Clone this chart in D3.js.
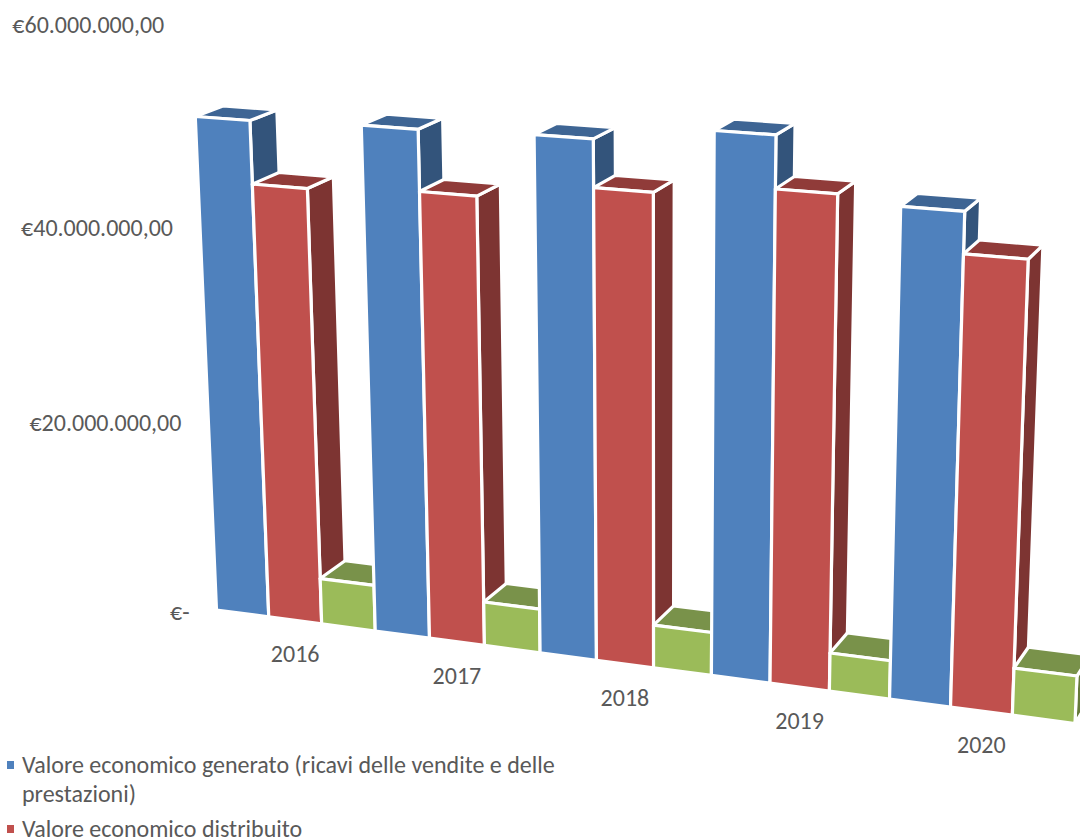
<!DOCTYPE html>
<html>
<head>
<meta charset="utf-8">
<script src="https://cdn.jsdelivr.net/npm/d3@7/dist/d3.min.js"></script>
<style>
  html, body { margin: 0; padding: 0; background: #fff; overflow: hidden; }
  svg { display: block; }
  text { font-family: Carlito, Lato, "Open Sans", sans-serif; fill: #595959; }
</style>
</head>
<body>
<svg id="chart" width="1080" height="840"></svg>
<script>
// Chart values, in euro
const years = ["2016", "2017", "2018", "2019", "2020"];
const seriesKeys = ["generato", "distribuito", "trattenuto"];
const generato    = [50.85e6, 51.2e6, 51.5e6, 53.1e6, 47.4e6];
const distribuito = [44.6e6, 45.2e6, 46.9e6, 48.1e6, 43.5e6];
const trattenuto  = [4.82e6, 4.54e6, 4.39e6, 3.84e6, 4.68e6];
const seriesValues = [generato, distribuito, trattenuto];
const axisTicks = [0, 20e6, 40e6, 60e6];
const tickLabels = ["€-", "€20.000.000,00", "€40.000.000,00", "€60.000.000,00"];
const legendLines = [
  ["Valore economico generato (ricavi delle vendite e delle", "prestazioni)"],
  ["Valore economico distribuito"]
];

// Fill colours per series: front, top and side faces
const frontFill = ["#4f81bd", "#c0504d", "#9bbb59"];
const topFill   = ["#3e6594", "#903b39", "#79924a"];
const sideFill  = ["#33547b", "#7d3432", "#657a3a"];

// Three-point perspective camera, defined by its vanishing points
const origin = { x: 216.5, y: 610 };
const vanishAlong = { x: -8200, y: -502.6, k: -0.09256 };
const vanishUp    = { x: 659,   y: 10900,  k: -0.054 };
const vanishDepth = { x: 1825,  y: -500,   k: 0.0165 };

function project(u, v, w) {
  const a = vanishAlong.k * u, b = vanishUp.k * v, c = vanishDepth.k * w;
  const d = 1 + a + b + c;
  return [
    (origin.x + a * vanishAlong.x + b * vanishUp.x + c * vanishDepth.x) / d,
    (origin.y + a * vanishAlong.y + b * vanishUp.y + c * vanishDepth.y) / d
  ];
}

// Scales from data to the unit box of the perspective camera
const xYear = d3.scaleBand().domain(years).range([0, 1]);
const xSeries = d3.scaleBand().domain(seriesKeys).range([0, xYear.bandwidth()]);
const vValue = d3.scaleLinear().domain([0, 60e6]).range([0, 1]);

const svg = d3.select("#chart");
const line = d3.line().curve(d3.curveLinearClosed);

const bars = years.flatMap((year, i) => seriesKeys.map((key, s) => ({
  year, key, s, value: seriesValues[s][i],
  u0: xYear(year) + xSeries(key),
  u1: xYear(year) + xSeries(key) + xSeries.bandwidth()
})));

// Left bars first: each bar hides the side of its left neighbour
const barGroups = svg.append("g").selectAll("g").data(bars).join("g")
  .attr("stroke", "#fff").attr("stroke-width", 3.2).attr("stroke-linejoin", "round");

barGroups.append("path").attr("fill", d => sideFill[d.s]).attr("d", d => {
  const v = vValue(d.value);
  return line([project(d.u1, 0, 0), project(d.u1, v, 0), project(d.u1, v, 1), project(d.u1, 0, 1)]);
});
barGroups.append("path").attr("fill", d => topFill[d.s]).attr("d", d => {
  const v = vValue(d.value);
  return line([project(d.u0, v, 0), project(d.u1, v, 0), project(d.u1, v, 1), project(d.u0, v, 1)]);
});
barGroups.append("path").attr("fill", d => frontFill[d.s]).attr("d", d => {
  const v = vValue(d.value);
  return line([project(d.u0, 0, 0), project(d.u1, 0, 0), project(d.u1, v, 0), project(d.u0, v, 0)]);
});

const fontSize = 24;

// Value axis labels follow the left edge of the box
svg.append("g").selectAll("text").data(axisTicks).join("text")
  .attr("text-anchor", "end").attr("font-size", fontSize)
  .attr("x", d => project(0, vValue(d), 0)[0] - 27)
  .attr("y", d => project(0, vValue(d), 0)[1] + 10)
  .text((d, i) => tickLabels[i]);

// Year labels sit below the front edge of the floor
svg.append("g").selectAll("text").data(years).join("text")
  .attr("text-anchor", "middle").attr("font-size", fontSize)
  .attr("x", d => project(xYear(d) + xYear.bandwidth() / 2, 0, 0)[0])
  .attr("y", d => project(xYear(d) + xYear.bandwidth() / 2, 0, 0)[1] + 42)
  .text(d => d);

// Legend: square marker on each entry's first line
const legendY = [[773, 802], [837]];
const legend = svg.append("g");
legendLines.forEach((rows, s) => {
  legend.append("rect").attr("x", 7).attr("y", legendY[s][0] - 12).attr("width", 7).attr("height", 8)
    .attr("fill", frontFill[s]);
  rows.forEach((row, r) => {
    legend.append("text").attr("x", 22).attr("y", legendY[s][r])
      .attr("font-size", fontSize).text(row);
  });
});
</script>
</body>
</html>
